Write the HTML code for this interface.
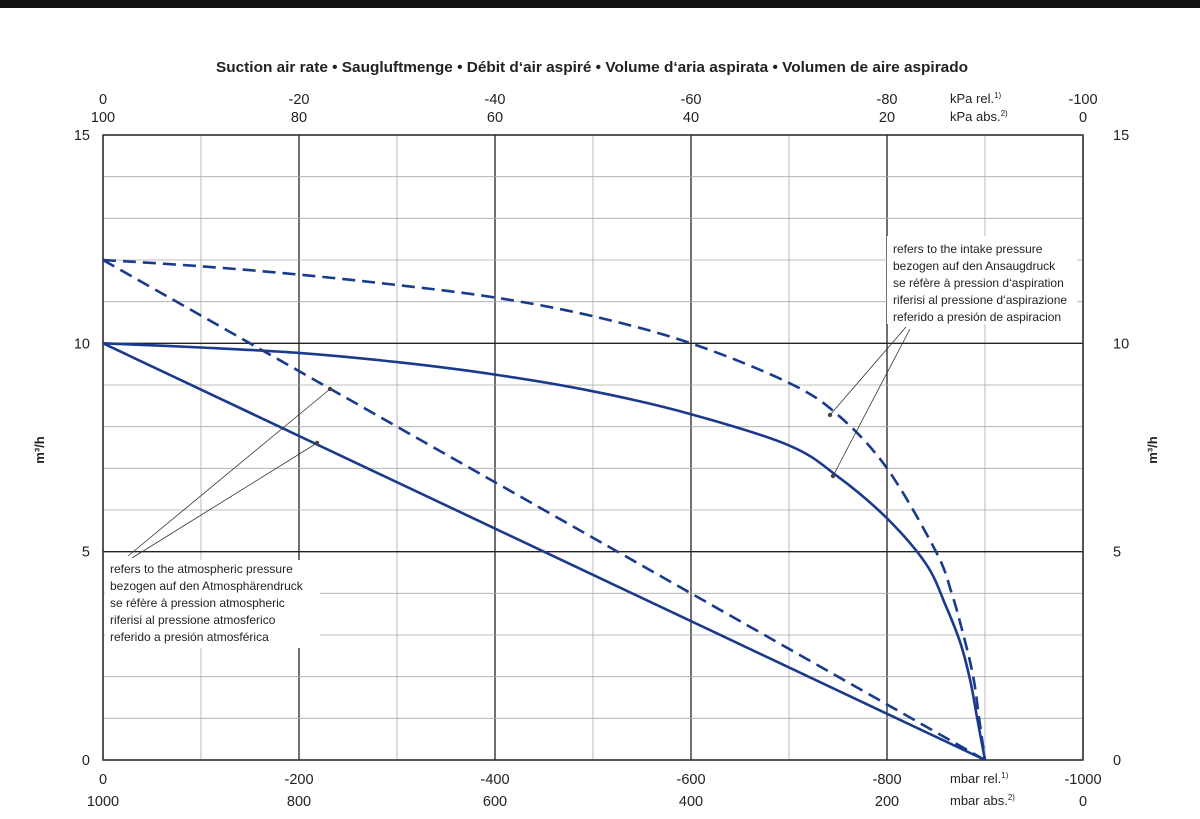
<!DOCTYPE html>
<html><head><meta charset="utf-8"><style>
body{margin:0;background:#fff;}
svg{display:block;font-family:"Liberation Sans",Arial,sans-serif;}
</style></head><body>
<svg width="1200" height="819" viewBox="0 0 1200 819">
<rect x="0" y="0" width="1200" height="8" fill="#111"/>
<text x="592" y="72" text-anchor="middle" font-size="15" font-weight="bold" fill="#222" textLength="752" lengthAdjust="spacingAndGlyphs">Suction air rate  •  Saugluftmenge  •  Débit d‘air aspiré  •  Volume d‘aria aspirata  •  Volumen de aire aspirado</text>
<g id="grid"></g>
<g id="labels"></g>
<g id="curves"></g>
<text transform="translate(44,450) rotate(-90)" text-anchor="middle" font-size="13" font-weight="bold" fill="#222">m³/h</text>
<text transform="translate(1157,450) rotate(-90)" text-anchor="middle" font-size="13" font-weight="bold" fill="#222">m³/h</text>
<g font-size="13" fill="#222">
<text x="950" y="103">kPa rel.<tspan font-size="8" dy="-5">1)</tspan></text>
<text x="950" y="121">kPa abs.<tspan font-size="8" dy="-5">2)</tspan></text>
<text x="950" y="783">mbar rel.<tspan font-size="8" dy="-5">1)</tspan></text>
<text x="950" y="805">mbar abs.<tspan font-size="8" dy="-5">2)</tspan></text>
</g>
<g id="annot" stroke="#333" stroke-width="0.8">
<line x1="128" y1="556" x2="330" y2="389"/><line x1="132" y1="558" x2="317" y2="443"/>
<line x1="906" y1="327" x2="830" y2="415"/><line x1="910" y1="329" x2="833" y2="476"/>
</g>
<g fill="#444"><circle cx="330" cy="389" r="2.2"/><circle cx="317" cy="443" r="2.2"/><circle cx="830" cy="415" r="2.2"/><circle cx="833" cy="476" r="2.2"/></g>
<rect x="887" y="236" width="190" height="88" fill="#fff"/>
<g font-size="12" fill="#222">
<text x="893" y="253">refers to the intake pressure</text><text x="893" y="270">bezogen auf den Ansaugdruck</text><text x="893" y="287">se réfère à pression d‘aspiration</text><text x="893" y="304">riferisi al pressione d‘aspirazione</text><text x="893" y="321">referido a presión de aspiracion</text>
</g>
<rect x="105" y="560" width="215" height="88" fill="#fff"/>
<g font-size="12" fill="#222">
<text x="110" y="573">refers to the atmospheric pressure</text><text x="110" y="590">bezogen auf den Atmosphärendruck</text><text x="110" y="607">se réfère à pression atmospheric</text><text x="110" y="624">riferisi al pressione atmosferico</text><text x="110" y="641">referido a presión atmosférica</text>
</g>
</svg>
<script>
const xTicks=[0,-200,-400,-600,-800,-1000];
const xAbs=[1000,800,600,400,200,0];
const kpaRel=[0,-20,-40,-60,-80,-100];
const kpaAbs=[100,80,60,40,20,0];
const yTicks=[0,5,10,15];
const solidLineX=[0,-900];const solidLineY=[10,0];
const dashLineX=[0,-900];const dashLineY=[12,0];
const solidCurveX=[0,-100,-200,-300,-400,-500,-600,-700,-750,-800,-840,-860,-875,-885,-892,-900];
const solidCurveY=[10,9.9,9.77,9.55,9.25,8.85,8.3,7.55,6.8,5.8,4.7,3.7,2.8,1.9,1.0,0];
const dashCurveX=[0,-100,-200,-300,-400,-500,-600,-700,-750,-800,-850,-866,-878,-888,-894,-900];
const dashCurveY=[12,11.85,11.65,11.4,11.1,10.65,10,9.05,8.28,7.0,5.0,4.0,3.0,2.0,1.0,0];
const X0=103,X1=1083,Y0=760,Y1=135;
const sx=v=>X0+(-v)/1000*(X1-X0);
const sy=v=>Y0-v/15*(Y0-Y1);
const NS="http://www.w3.org/2000/svg";
function mk(p,t,a){const e=document.createElementNS(NS,t);for(const k in a)e.setAttribute(k,a[k]);p.appendChild(e);return e;}
const g=document.getElementById('grid');
for(let v=0;v>=-1000;v-=100){const th=(v%200===0);const l=mk(g,'line',{x1:sx(v),x2:sx(v),y1:Y1,y2:Y0,stroke:th?'#222':'#aaa','stroke-width':th?1.3:0.8});

}
for(let v=0;v<=15;v++){const th=(v%5===0);const l=mk(g,'line',{x1:X0,x2:X1,y1:sy(v),y2:sy(v),stroke:th?'#222':'#aaa','stroke-width':th?1.3:0.8});

}
const fr=mk(g,'rect',{x:X0,y:Y1,width:X1-X0,height:Y0-Y1,fill:'none',stroke:'#333','stroke-width':1.5});


const lb=document.getElementById('labels');
function txt(x,y,s,anc,name){const t=mk(lb,'text',{x:x,y:y,'text-anchor':anc,'font-size':14.5,fill:'#222'});t.textContent=s;

}
xTicks.forEach((v,i)=>{txt(sx(v),784,String(v),'middle','x-tick-rel');txt(sx(v),806,String(xAbs[i]),'middle','x-tick-abs');
txt(sx(v),104,String(kpaRel[i]),'middle','top-tick-rel');txt(sx(v),122,String(kpaAbs[i]),'middle','top-tick-abs');});
yTicks.forEach(v=>{txt(90,sy(v)+5,String(v),'end','y-tick-left');txt(1113,sy(v)+5,String(v),'start','y-tick-right');});
const cv=document.getElementById('curves');
function series(xs,ys,dash,name){
const P=xs.map((x,i)=>[sx(x),sy(ys[i])]);
let d='M'+P[0][0].toFixed(1)+','+P[0][1].toFixed(1);
for(let i=0;i<P.length-1;i++){const p0=P[Math.max(0,i-1)],p1=P[i],p2=P[i+1],p3=P[Math.min(P.length-1,i+2)];
const c1=[p1[0]+(p2[0]-p0[0])/6,p1[1]+(p2[1]-p0[1])/6],c2=[p2[0]-(p3[0]-p1[0])/6,p2[1]-(p3[1]-p1[1])/6];
d+=' C'+c1.map(v=>v.toFixed(1)).join(',')+' '+c2.map(v=>v.toFixed(1)).join(',')+' '+p2.map(v=>v.toFixed(1)).join(',');}
const p=mk(cv,'path',{d:d,fill:'none',stroke:'#1a3a8c','stroke-width':2.6,'stroke-dasharray':dash?'13,7':'none','stroke-linejoin':'round'});

}
series(solidLineX,solidLineY,false,'atmospheric-solid-line');
series(dashLineX,dashLineY,true,'atmospheric-dashed-line');
series(solidCurveX,solidCurveY,false,'intake-solid-curve');
series(dashCurveX,dashCurveY,true,'intake-dashed-curve');
</script>
</body></html>
